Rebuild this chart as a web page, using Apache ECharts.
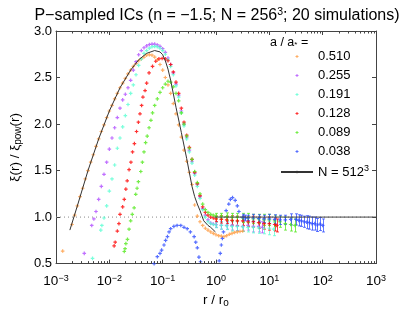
<!DOCTYPE html>
<html><head><meta charset="utf-8">
<script src="https://cdn.jsdelivr.net/npm/echarts@6/dist/echarts.min.js"></script>
<style>html,body{margin:0;padding:0;background:#fff}#c{width:415px;height:313px}</style>
</head><body><div id="c"></div>
<script>
// values are [log10(r/r0), xi/xi_pow, (optional) error bar half-height]
const LEGEND_LABELS = ['0.510','0.255','0.191','0.128','0.089','0.038'];
const COLORS = ['#ff9a3d','#b04cff','#57ffd2','#ff0000','#52e81c','#2d4bff'];

const A510 = [[-2.875,0.635],
[-2.70,0.92],[-2.65,1.02],[-2.60,1.12],[-2.55,1.22],[-2.50,1.31],[-2.45,1.41],[-2.40,1.50],[-2.35,1.59],[-2.30,1.67],[-2.25,1.76],[-2.20,1.84],[-2.15,1.92],[-2.10,1.99],[-2.05,2.07],[-2.00,2.14],[-1.95,2.20],[-1.90,2.27],[-1.85,2.33],[-1.80,2.39],[-1.75,2.44],[-1.70,2.49],[-1.65,2.54],[-1.60,2.58],[-1.55,2.62],[-1.50,2.65],[-1.45,2.68],[-1.40,2.70],[-1.35,2.72],[-1.30,2.74],[-1.25,2.745],[-1.20,2.74],[-1.15,2.72],[-1.10,2.69],[-1.05,2.64],[-1.00,2.58],[-0.95,2.50],[-0.90,2.42],[-0.85,2.33],[-0.80,2.22],[-0.75,2.11],[-0.70,1.99],[-0.65,1.86],[-0.60,1.72],[-0.55,1.60],[-0.50,1.48],[-0.45,1.35],[-0.40,1.13],[-0.35,1.01],[-0.30,0.95],[-0.25,0.91],[-0.20,0.88],[-0.15,0.86],[-0.10,0.84],[-0.05,0.825],[0.00,0.81],[0.05,0.80],[0.10,0.795],[0.15,0.79],[0.20,0.80],[0.25,0.815],[0.30,0.825],[0.35,0.835],[0.40,0.84],[0.45,0.845],[0.50,0.85]];

const A255 = [[-2.47,0.61],[-2.33,0.91],[-2.29,0.98],[-2.25,1.06],[-2.20,1.19],[-2.15,1.33],[-2.10,1.46],[-2.05,1.59],[-2.00,1.73],[-1.95,1.85],[-1.90,1.96],[-1.85,2.07],[-1.80,2.17],[-1.75,2.26],[-1.70,2.32],[-1.65,2.39],[-1.60,2.47],[-1.55,2.58],[-1.50,2.67],[-1.45,2.745],[-1.40,2.79],[-1.35,2.82],[-1.30,2.84],[-1.25,2.855],[-1.20,2.86],[-1.15,2.86],[-1.10,2.85],[-1.05,2.835],[-1.00,2.81],[-0.95,2.77],[-0.90,2.71],[-0.85,2.64],[-0.80,2.55],[-0.75,2.43],[-0.70,2.31],[-0.65,2.14],[-0.60,2.00],[-0.55,1.86],[-0.50,1.72],[-0.45,1.60],[-0.40,1.47],[-0.35,1.35],[-0.30,1.22],[-0.25,1.09],[-0.20,1.02],[-0.15,0.97],[-0.10,0.935],[-0.05,0.925],[0.00,0.92,0.03],[0.10,0.91,0.04],[0.20,0.91,0.04],[0.30,0.91,0.05],[0.40,0.905,0.05],[0.50,0.90,0.05],[0.60,0.91,0.05],[0.70,0.90,0.06],[0.80,0.90,0.06],[0.87,0.89,0.06]];

const A191 = [[-2.315,0.556],[-2.16,0.86],[-2.14,0.91],[-2.10,0.99],[-2.05,1.12],[-2.00,1.28],[-1.95,1.41],[-1.90,1.56],[-1.85,1.74],[-1.80,1.85],[-1.75,1.97],[-1.70,2.09],[-1.65,2.21],[-1.60,2.33],[-1.55,2.42],[-1.50,2.53],[-1.45,2.63],[-1.40,2.70],[-1.35,2.76],[-1.30,2.79],[-1.25,2.815],[-1.20,2.83],[-1.15,2.835],[-1.10,2.83],[-1.05,2.815],[-1.00,2.79],[-0.95,2.75],[-0.90,2.69],[-0.85,2.62],[-0.80,2.53],[-0.75,2.41],[-0.70,2.29],[-0.65,2.12],[-0.60,1.98],[-0.55,1.84],[-0.50,1.70],[-0.45,1.58],[-0.40,1.45],[-0.35,1.33],[-0.30,1.20],[-0.25,1.08],[-0.20,1.00],[-0.15,0.95],[-0.10,0.93],[-0.05,0.92],[0.00,0.915,0.03],[0.10,0.91,0.04],[0.20,0.905,0.04],[0.30,0.90,0.05],[0.40,0.90,0.05],[0.50,0.895,0.05],[0.60,0.89,0.05],[0.70,0.89,0.06],[0.80,0.885,0.06],[0.90,0.88,0.06],[1.00,0.88,0.07],[1.08,0.87,0.07]];

const A128 = [[-1.91,0.69],[-1.89,0.73],[-1.85,0.85],[-1.82,0.93],[-1.80,1.03],[-1.75,1.11],[-1.72,1.19],[-1.69,1.30],[-1.665,1.39],[-1.63,1.51],[-1.595,1.59],[-1.565,1.70],[-1.53,1.79],[-1.49,1.92],[-1.455,2.02],[-1.425,2.11],[-1.395,2.20],[-1.37,2.29],[-1.33,2.36],[-1.30,2.44],[-1.255,2.55],[-1.19,2.62],[-1.13,2.675],[-1.07,2.70],[-1.01,2.705],[-0.95,2.70],[-0.90,2.68],[-0.85,2.64],[-0.80,2.56],[-0.75,2.45],[-0.70,2.33],[-0.65,2.17],[-0.60,2.02],[-0.55,1.88],[-0.50,1.75],[-0.45,1.62],[-0.40,1.48],[-0.35,1.36],[-0.30,1.23],[-0.25,1.11],[-0.20,1.05],[-0.15,1.02],[-0.10,1.00],[-0.05,0.99],[0.00,0.98,0.03],[0.10,0.975,0.04],[0.20,0.97,0.04],[0.30,0.965,0.05],[0.40,0.96,0.05],[0.50,0.96,0.05],[0.60,0.95,0.05],[0.70,0.95,0.06],[0.80,0.94,0.06],[0.90,0.93,0.06],[1.00,0.93,0.07],[1.10,0.92,0.07],[1.14,0.91,0.07]];

const A089 = [[-1.72,0.63],[-1.705,0.66],[-1.69,0.715],[-1.66,0.76],[-1.63,0.87],[-1.60,0.96],[-1.57,1.03],[-1.535,1.10],[-1.505,1.245],[-1.48,1.31],[-1.455,1.38],[-1.41,1.49],[-1.38,1.59],[-1.35,1.70],[-1.32,1.80],[-1.29,1.87],[-1.255,1.96],[-1.22,2.04],[-1.19,2.12],[-1.15,2.20],[-1.10,2.27],[-1.05,2.34],[-1.00,2.39],[-0.95,2.43],[-0.90,2.46],[-0.85,2.45],[-0.80,2.40],[-0.75,2.33],[-0.70,2.25],[-0.65,2.12],[-0.60,2.00],[-0.55,1.87],[-0.50,1.74],[-0.45,1.62],[-0.40,1.49],[-0.35,1.37],[-0.30,1.25],[-0.25,1.14],[-0.20,1.08],[-0.15,1.05],[-0.10,1.03],[-0.05,1.02],[0.00,1.01,0.03],[0.10,1.01,0.03],[0.20,1.005,0.04],[0.30,1.00,0.04],[0.40,1.00,0.04],[0.50,0.99,0.05],[0.60,0.99,0.05],[0.70,0.98,0.05],[0.80,0.98,0.05],[0.90,0.97,0.06],[1.00,0.97,0.06],[1.10,0.96,0.06],[1.20,0.95,0.06],[1.30,0.93,0.07],[1.40,0.92,0.07],[1.48,0.91,0.07]];

const A038 = [[-1.16,0.50],[-1.10,0.574],[-1.05,0.61],[-1.02,0.645],[-0.975,0.70],[-0.945,0.75],[-0.91,0.79],[-0.88,0.84],[-0.85,0.875],[-0.79,0.90],[-0.73,0.91],[-0.66,0.91],[-0.60,0.89],[-0.54,0.875],[-0.48,0.84],[-0.41,0.79],[-0.38,0.73],[-0.35,0.67],[-0.32,0.57],[-0.29,0.52],[0.06,0.53],[0.08,0.61],[0.10,0.70],[0.12,0.77],[0.14,0.84],[0.19,1.07],[0.24,1.14],[0.27,1.19],[0.31,1.21],[0.36,1.18],[0.40,1.12],[0.43,1.06],[0.50,1.00,0.03],[0.55,0.99,0.03],[0.60,0.99,0.03],[0.70,0.99,0.04],[0.80,0.985,0.04],[0.90,0.98,0.04],[1.00,0.98,0.05],[1.10,0.975,0.05],[1.20,0.97,0.05],[1.30,0.97,0.05],[1.40,0.975,0.06],[1.50,0.975,0.06],[1.55,0.965,0.06],[1.60,0.96,0.06],[1.65,0.95,0.06],[1.70,0.945,0.07],[1.75,0.94,0.07],[1.80,0.93,0.07],[1.85,0.93,0.07],[1.90,0.915,0.07],[1.95,0.925,0.07],[2.00,0.91,0.07]];

const N512 = [[-2.74,0.86],[-2.60,1.12],[-2.40,1.50],[-2.20,1.84],[-2.00,2.14],[-1.80,2.39],[-1.60,2.58],[-1.45,2.69],[-1.30,2.76],[-1.15,2.79],[-1.05,2.775],[-1.00,2.745],[-0.95,2.68],[-0.90,2.59],[-0.85,2.47],[-0.75,2.18],[-0.65,1.91],[-0.55,1.63],[-0.45,1.33],[-0.40,1.22],[-0.35,1.14],[-0.30,1.07],[-0.23,0.96],[-0.15,0.91],[-0.10,0.89],[-0.01,0.84]];
const UNITY_SOLID = [[-0.03,1],[3,1]];

const X_MIN = -3, X_MAX = 3, Y_MIN = 0.5, Y_MAX = 3.0;
const FONT = 'Liberation Sans, Arial, Helvetica, sans-serif';
const AX = '#444';

const SERIES_DATA = [A510, A255, A191, A128, A089, A038];

const minorPos = [];
for (let d = X_MIN; d < X_MAX; d++) for (let k = 2; k <= 9; k++) minorPos.push([d + Math.log10(k), 1]);

const series = [];
series.push({type:'line', data:[[X_MIN,1],[X_MAX,1]], symbol:'none', silent:true, z:1,
  lineStyle:{color:'#888', width:1, type:[1,3]}});
SERIES_DATA.forEach((d, i) => {
  const col = COLORS[i];
  series.push({type:'custom', silent:true, z:2,
    data: d.filter(p => p.length > 2),
    renderItem(params, api){
      const x = api.value(0), y = api.value(1), e = api.value(2);
      const lo = api.coord([x, y - e]), hi = api.coord([x, y + e]);
      const cx = Math.round(lo[0]) + 0.5;
      return {type:'group', children:[
        {type:'line', shape:{x1:cx, y1:lo[1], x2:cx, y2:hi[1]}, style:{stroke:col, lineWidth:1, opacity:0.75}},
        {type:'line', shape:{x1:cx-1.5, y1:lo[1], x2:cx+1.5, y2:lo[1]}, style:{stroke:col, lineWidth:1, opacity:0.75}},
        {type:'line', shape:{x1:cx-1.5, y1:hi[1], x2:cx+1.5, y2:hi[1]}, style:{stroke:col, lineWidth:1, opacity:0.75}}
      ]};
    }});
  series.push({type:'scatter', name: LEGEND_LABELS[i], data: d.map(p => [p[0], p[1]]),
    symbol:'path://M1,0H2V1H3V2H2V3H1V2H0V1H1Z', symbolSize:3.6, z:3,
    itemStyle:{color:col}, silent:true});
});
series.push({type:'line', name:'N512', data:N512, symbol:'none', z:4, silent:true,
  lineStyle:{color:'#333', width:1}, itemStyle:{color:'#333'}});
series.push({type:'line', data:UNITY_SOLID, symbol:'none', z:4, silent:true,
  lineStyle:{color:'#444', width:1}});
series.push({type:'custom', data:minorPos, silent:true, z:10, clip:false,
  renderItem(params, api){
    const x = api.value(0);
    const b = api.coord([x, Y_MIN]), t = api.coord([x, Y_MAX]);
    const px = Math.round(b[0]) + 0.5;
    return {type:'group', children:[
      {type:'line', shape:{x1:px, y1:b[1], x2:px, y2:b[1]-2.5}, style:{stroke:AX, lineWidth:1}},
      {type:'line', shape:{x1:px, y1:t[1], x2:px, y2:t[1]+2.5}, style:{stroke:AX, lineWidth:1}}
    ]};
  }});

const supRich = {
  b:{fontSize:13.5, fontFamily:FONT, color:'#000'},
  s:{fontSize:9, fontFamily:FONT, color:'#000', verticalAlign:'top', padding:[0,0,6,0]}
};
const axisLineStyle = {show:true, onZero:false, lineStyle:{color:AX, width:1}};

const option = {
  animation:false,
  backgroundColor:'#fff',
  grid:{left:55, right:39, top:31, bottom:46, containLabel:false},
  xAxis:[{
    type:'value', min:X_MIN, max:X_MAX, interval:1, position:'bottom',
    axisLine:axisLineStyle,
    axisTick:{show:true, inside:true, length:4, lineStyle:{color:AX}},
    splitLine:{show:false},
    axisLabel:{margin:10, formatter: v => { const e = Math.round(v); return '{b|10}{s|' + (e < 0 ? '−' + (-e) : e) + '}'; }, rich: supRich},
    name:'{t|r / r}{o|o}', nameLocation:'middle', nameGap:21,
    nameTextStyle:{rich:{t:{fontSize:13.5, fontFamily:FONT, color:'#000'}, o:{fontSize:10, fontFamily:FONT, color:'#000', verticalAlign:'bottom', padding:[6,0,0,0]}}}
  },{
    type:'value', min:X_MIN, max:X_MAX, interval:1, position:'top',
    axisLine:axisLineStyle,
    axisTick:{show:true, inside:true, length:4, lineStyle:{color:AX}},
    splitLine:{show:false}, axisLabel:{show:false}
  }],
  yAxis:[{
    type:'value', min:Y_MIN, max:Y_MAX, interval:0.5, position:'left',
    axisLine:axisLineStyle,
    axisTick:{show:true, inside:true, length:4, lineStyle:{color:AX}},
    splitLine:{show:false},
    axisLabel:{margin:4, fontSize:13, fontFamily:FONT, color:'#000', formatter: v => v.toFixed(1)},
    name:'{t|ξ(r) / ξ}{p|pow}{t|(r)}', nameLocation:'middle', nameGap:33, nameRotate:90,
    nameTextStyle:{rich:{t:{fontSize:13.5, fontFamily:FONT, color:'#000'}, p:{fontSize:10, fontFamily:FONT, color:'#000', verticalAlign:'bottom', padding:[6,0,0,0]}}}
  },{
    type:'value', min:Y_MIN, max:Y_MAX, interval:0.5, position:'right',
    axisLine:axisLineStyle,
    axisTick:{show:true, inside:true, length:4, lineStyle:{color:AX}},
    splitLine:{show:false}, axisLabel:{show:false}
  }],
  legend:{
    orient:'vertical', left:275, top:45, itemWidth:32, itemHeight:3, itemGap:6,
    data:[...LEGEND_LABELS, 'N512'], selectedMode:false,
    formatter: n => n === 'N512' ? '{t|N = 512}{s|3}' : '{t|' + n + '}',
    textStyle:{rich:{t:{fontSize:13, fontFamily:FONT, color:'#000', lineHeight:16}, s:{fontSize:9, fontFamily:FONT, color:'#000', verticalAlign:'top', padding:[0,0,6,0]}}}
  },
  graphic:[
    {type:'text', x:217, y:7, silent:true, style:{
      text:'{t|P−sampled ICs (n = −1.5; N = 256}{s|3}{t|; 20 simulations)}',
      align:'center', verticalAlign:'top',
      rich:{t:{fontSize:16, fontFamily:FONT, color:'#000'}, s:{fontSize:10.5, fontFamily:FONT, color:'#000', verticalAlign:'top', padding:[0,0,7,0]}}}},
    {type:'text', x:270, y:36, silent:true, style:{
      text:'{t|a / a}{a|*}{t| =}', align:'left', verticalAlign:'top',
      rich:{t:{fontSize:12.5, fontFamily:FONT, color:'#000'}, a:{fontSize:8, fontFamily:FONT, color:'#000', verticalAlign:'bottom', padding:[5,0,0,0]}}}}
  ],
  series
};
const chart = echarts.init(document.getElementById('c'));
chart.setOption(option);
</script></body></html>
